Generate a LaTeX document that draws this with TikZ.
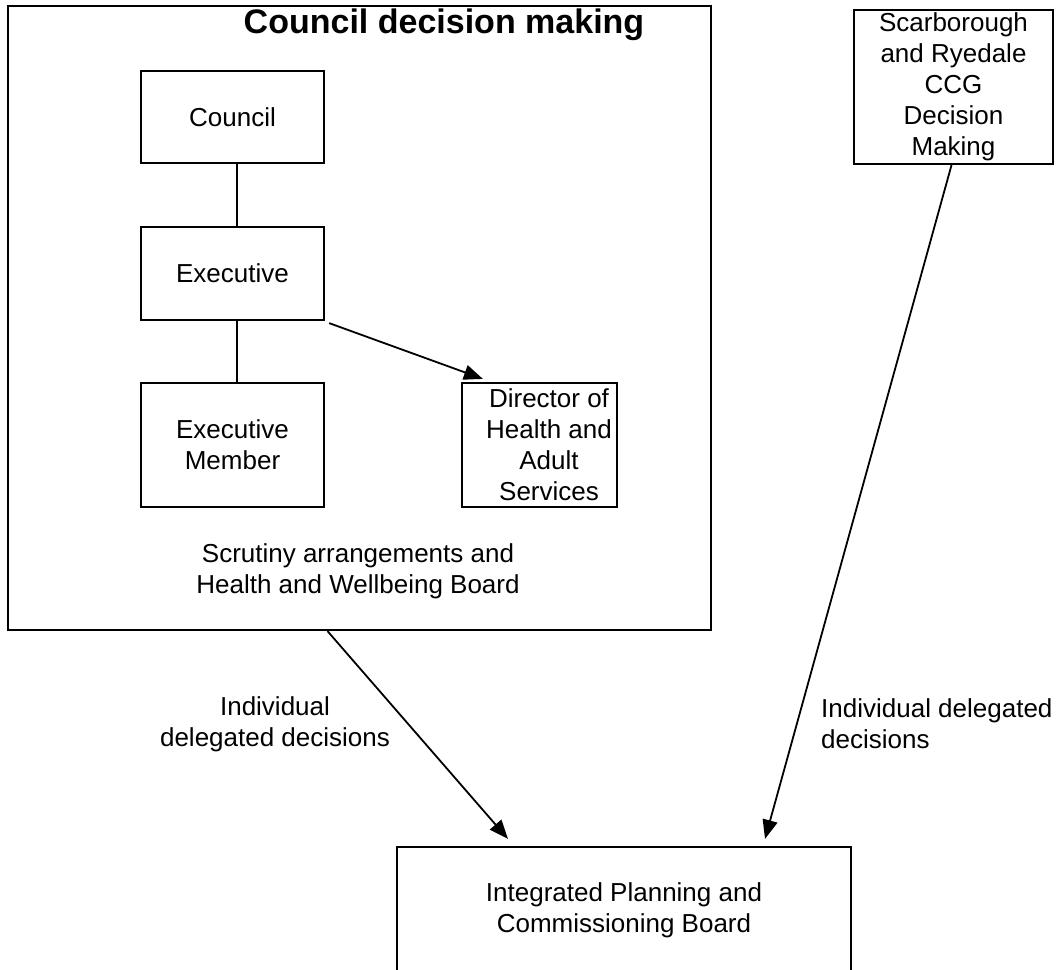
\documentclass[tikz,border=0pt]{standalone}
\usepackage{fontspec}
\setmainfont{Liberation Sans}
\usepackage{tikz}
\usetikzlibrary{positioning,arrows.meta}
\newcommand{\bodysize}{\fontsize{26}{31}\selectfont}
\newcommand{\headsize}{\fontsize{34}{40}\selectfont}

\begin{document}
\begin{tikzpicture}[x=1pt, y=-1pt,
 box/.style={rectangle, draw=black, line width=2.2pt, align=center,
 inner sep=0pt, font=\bodysize},
 lbl/.style={align=center, inner sep=0pt, font=\bodysize},
 a/.style={-{Triangle[length=19pt,width=15pt]}, draw=black, line width=1.8pt},
 l/.style={draw=black, line width=2pt},
]
 \useasboundingbox (0,0) rectangle (1064,969);
 \clip (0,0) rectangle (1064,969);

 % council side
 \node[box, minimum width=703pt, minimum height=624pt] (CDM) at (359.5,318) {};
 \node[lbl, font=\bfseries\headsize] (title) at (444,25) {Council decision making};
 \node[box, minimum width=183pt, minimum height=92pt] (C) at (232.5,117) {Council};
 \node[box, minimum width=183pt, minimum height=93pt] (EX) at (232.5,273.5) {Executive};
 \node[box, minimum width=183pt, minimum height=124pt] (EM) at (232.5,445) {Executive\\Member};
 \node[box, minimum width=155pt, minimum height=124pt] (DHA) at (539.5,445) {};
 \node[lbl] (DHAt) at (549,445) {Director of\\Health and\\Adult\\Services};
 \node[lbl] (scr) at (358,571) {Scrutiny arrangements and\\Health and Wellbeing Board};

 % ccg side
 \node[box, minimum width=199pt, minimum height=154pt] (CCG) at (953.5,87) {Scarborough\\and Ryedale\\CCG\\Decision\\Making};

 % board
 \node[box, minimum width=454pt, minimum height=126pt] (IPCB) at (624,910) {Integrated Planning and\\Commissioning Board};

 \node[lbl] (decL) at (275,724) {Individual\\delegated decisions};
 \node[lbl, align=left, anchor=west] (decR) at (821,724) {Individual delegated\\decisions};

 \draw[l] ([xshift=4pt]C.south) -- ([xshift=4pt]EX.north);
 \draw[l] ([xshift=4pt]EX.south) -- ([xshift=4pt]EM.north);
 \draw[a] ([xshift=4pt,yshift=-2pt]EX.south east) -- ([xshift=22pt,yshift=3pt]DHA.north west);
 \draw[a] ([xshift=-32pt]CDM.south) -- ([xshift=-116pt,yshift=7pt]IPCB.north);
 \draw[a] ([xshift=-2pt]CCG.south) -- ([xshift=141pt,yshift=7pt]IPCB.north);
\end{tikzpicture}
\end{document}
